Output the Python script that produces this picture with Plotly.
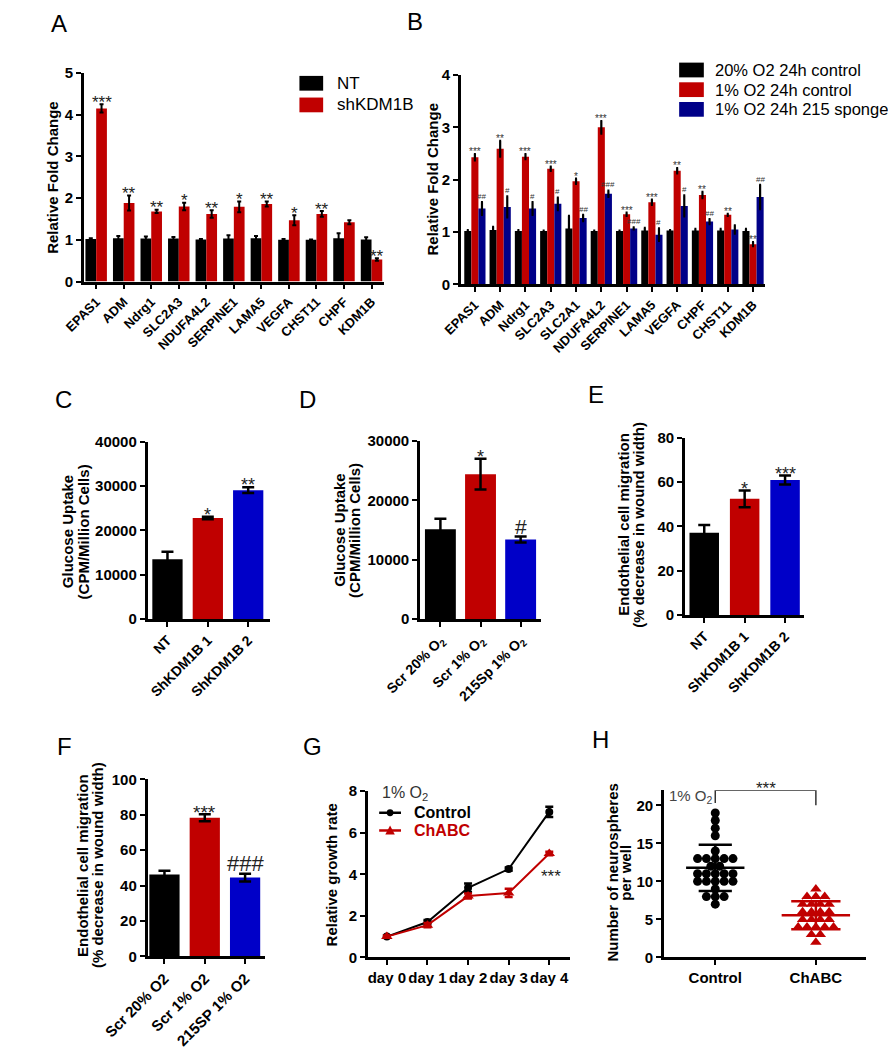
import numpy as np
import plotly.graph_objects as go

W, H = 888, 1050
FONT = "Liberation Sans, Arial, sans-serif"
BLACK = '#000000'; RED = '#C00000'; NAVY = '#000088'; BLUE = '#0000C8'

# ---------------- data ----------------
A_genes = ["EPAS1", "ADM", "Ndrg1", "SLC2A3", "NDUFA4L2", "SERPINE1", "LAMA5", "VEGFA", "CHST11", "CHPF", "KDM1B"]
A_nt = [1.02, 1.04, 1.03, 1.03, 1.01, 1.03, 1.04, 1.0, 1.0, 1.04, 1.01]
A_nt_err = [0.02, 0.05, 0.05, 0.04, 0.01, 0.08, 0.05, 0.02, 0.01, 0.12, 0.05]
A_sh = [4.15, 1.88, 1.68, 1.80, 1.62, 1.79, 1.86, 1.47, 1.62, 1.42, 0.53]
A_sh_err = [0.10, 0.18, 0.04, 0.09, 0.09, 0.13, 0.06, 0.12, 0.07, 0.05, 0.03]
A_sig = ["***", "**", "**", "*", "**", "*", "**", "*", "**", "", "**"]

B_genes = ["EPAS1", "ADM", "Ndrg1", "SLC2A3", "SLC2A1", "NDUFA4L2", "SERPINE1", "LAMA5", "VEGFA", "CHPF", "CHST11", "KDM1B"]
B_c20 = [1.02, 1.04, 1.02, 1.02, 1.07, 1.02, 1.02, 1.03, 1.03, 1.03, 1.03, 1.02]
B_c20_err = [0.02, 0.06, 0.02, 0.01, 0.24, 0.01, 0.01, 0.05, 0.01, 0.03, 0.03, 0.04]
B_c1 = [2.43, 2.59, 2.44, 2.21, 1.97, 3.00, 1.34, 1.57, 2.17, 1.71, 1.33, 0.77]
B_c1_err = [0.06, 0.15, 0.05, 0.04, 0.05, 0.12, 0.03, 0.05, 0.05, 0.06, 0.02, 0.04]
B_sp = [1.45, 1.48, 1.45, 1.54, 1.27, 1.73, 1.07, 0.95, 1.50, 1.20, 1.05, 1.67]
B_sp_err = [0.12, 0.20, 0.12, 0.12, 0.06, 0.06, 0.02, 0.12, 0.20, 0.05, 0.08, 0.23]
B_sig1 = ["***", "**", "***", "***", "*", "***", "***", "***", "**", "**", "**", "**"]
B_sig2 = ["##", "#", "#", "#", "##", "###", "###", "#", "#", "##", "", "##"]

C_groups = ["NT", "ShKDM1B 1", "ShKDM1B 2"]
C_vals = [13500, 22800, 29100]
C_err = [1700, 300, 650]
C_sig = ["", "*", "**"]

D_groups = ["Scr 20% O<sub>2</sub>", "Scr 1% O<sub>2</sub>", "215Sp 1% O<sub>2</sub>"]
D_vals = [15100, 24400, 13400]
D_err = [1800, 2600, 500]
D_sig = ["", "*", "#"]

E_groups = ["NT", "ShKDM1B 1", "ShKDM1B 2"]
E_vals = [37.2, 52.5, 61.0]
E_err = [3.5, 3.8, 2.0]
E_sig = ["", "*", "***"]

F_groups = ["Scr 20% O2", "Scr 1% O2", "215SP 1% O2"]
F_vals = [46.2, 78.3, 44.5]
F_err = [2.2, 2.0, 2.2]
F_sig = ["", "***", "###"]

G_days = ["day 0", "day 1", "day 2", "day 3", "day 4"]
G_ctrl = [1.0, 1.7, 3.35, 4.25, 7.0]
G_ctrl_err = [0.05, 0.1, 0.2, 0.08, 0.25]
G_chabc = [1.0, 1.55, 2.95, 3.1, 5.0]
G_chabc_err = [0.05, 0.1, 0.12, 0.2, 0.08]

H_groups = ["Control", "ChABC"]
H_ctrl = [19, 18, 17, 16, 14, 13, 13, 13, 13, 13, 12, 12, 11, 11, 11, 11, 11,
          10, 10, 10, 10, 10, 9, 8, 8, 8, 7]
H_chabc = [9, 8, 8, 8, 7, 7, 7, 7, 6, 6, 6, 6, 5, 5, 5, 5, 4, 4, 4, 4, 4, 3, 3, 2]

# ---------------- helpers ----------------
def xd(a, b):
    return [a / W, b / W]

def yd(top, bot):
    return [1 - bot / H, 1 - top / H]

def xaxis(dom, rng, tickvals, ticktext, angle=0, size=12, anchor='y'):
    return dict(domain=dom, range=rng, tickvals=tickvals, ticktext=ticktext, tickangle=angle,
                showline=True, linecolor='black', linewidth=2.5, ticks='outside', ticklen=5,
                tickwidth=2, tickcolor='black', showgrid=False, zeroline=False, anchor=anchor,
                tickfont=dict(family=FONT, size=size, color='black', weight='bold'), fixedrange=True)

def yaxis(dom, rng, tickvals, anchor, size=15):
    return dict(domain=dom, range=rng, tickvals=tickvals, tickformat='d', showline=True, linecolor='black',
                linewidth=2.5, ticks='outside', ticklen=5, tickwidth=2, tickcolor='black', showgrid=False,
                zeroline=False, anchor=anchor,
                tickfont=dict(family=FONT, size=size, color='black', weight='bold'), fixedrange=True)

ann = []
shapes = []

def text(x, y, t, size=13, xref='paper', yref='paper', angle=0, color='black', weight='normal',
         xanchor='center', yanchor='middle', yshift=0):
    if xref == 'paper':
        x = x / W
    if yref == 'paper':
        y = 1 - y / H
    ann.append(dict(x=x, y=y, xref=xref, yref=yref, text=t, showarrow=False, textangle=angle,
                    font=dict(family=FONT, size=size, color=color, weight=weight),
                    xanchor=xanchor, yanchor=yanchor, yshift=yshift))

def sig_text(x, y, s, size, xa, ya, color='black', gap=2):
    # place the glyphs just above the error bar top
    if '#' in s:
        ys = -0.22 * size - 1 + gap
    else:
        ys = -0.62 * size - 1 + gap
    text(x, y, s, size, xa, ya, color=color, yanchor='bottom', yshift=ys)

def err(arr, th=2, w=2, color='black'):
    return dict(type='data', array=arr, visible=True, color=color, thickness=th, width=w)

fig = go.Figure()
layout = {}

# ---------------- Panel A ----------------
idxA = list(range(len(A_genes)))
fig.add_trace(go.Bar(x=idxA, y=A_nt, width=0.39, offset=-0.39, marker=dict(color=BLACK, line_width=0),
                     error_y=err(A_nt_err, 2, 2), xaxis='x', yaxis='y'))
fig.add_trace(go.Bar(x=idxA, y=A_sh, width=0.39, offset=0.0, marker=dict(color=RED, line_width=0),
                     error_y=err(A_sh_err, 2, 2), xaxis='x', yaxis='y'))
layout['xaxis'] = xaxis(xd(41, 357), [-0.445, 10.45], idxA, A_genes, -45, 13, 'y')
layout['yaxis'] = yaxis(yd(65, 277), [0, 5], [0, 1, 2, 3, 4, 5], 'x')
for i, s in enumerate(A_sig):
    if s:
        sig_text(i + 0.195, A_sh[i] + A_sh_err[i], s, 17, 'x', 'y', color='#222')

# ---------------- Panel B ----------------
idxB = list(range(len(B_genes)))
for vals, errs, col, off in [(B_c20, B_c20_err, BLACK, -0.42), (B_c1, B_c1_err, RED, -0.14), (B_sp, B_sp_err, NAVY, 0.14)]:
    fig.add_trace(go.Bar(x=idxB, y=vals, width=0.28, offset=off, marker=dict(color=col, line_width=0),
                         error_y=err(errs, 2.2, 1), xaxis='x2', yaxis='y2'))
layout['xaxis2'] = xaxis(xd(438, 758), [-0.557, 11.457], idxB, B_genes, -45, 13, 'y2')
layout['yaxis2'] = yaxis(yd(67, 280), [0, 4], [0, 1, 2, 3, 4], 'x2')
for i in idxB:
    if B_sig1[i]:
        sig_text(i, B_c1[i] + B_c1_err[i], B_sig1[i], 10, 'x2', 'y2', color='#333')
    if B_sig2[i]:
        sig_text(i + 0.28, B_sp[i] + B_sp_err[i], B_sig2[i], 8, 'x2', 'y2', color='#333')

# ---------------- single bar panels C D E F ----------------
def bar_panel(vals, errs, sig, xa, ya, width, colors, ssize, hsize):
    idx = list(range(len(vals)))
    fig.add_trace(go.Bar(x=idx, y=vals, width=width, marker=dict(color=colors, line_width=0),
                         error_y=err(errs, 2.5, 6), xaxis=xa, yaxis=ya))
    for i, s in enumerate(sig):
        if s:
            sig_text(i, vals[i] + errs[i], s, hsize if '#' in s else ssize, xa, ya, color='#222')

cols3 = [BLACK, RED, BLUE]
bar_panel(C_vals, C_err, C_sig, 'x3', 'y3', 0.75, cols3, 18, 21)
layout['xaxis3'] = xaxis(xd(108, 237), [-0.494, 2.54], [0, 1, 2], C_groups, -45, 14, 'y3')
layout['yaxis3'] = yaxis(yd(440, 620), [0, 40000], [0, 10000, 20000, 30000, 40000], 'x3')

bar_panel(D_vals, D_err, D_sig, 'x4', 'y4', 0.77, cols3, 18, 21)
layout['xaxis4'] = xaxis(xd(395, 523), [-0.509, 2.52], [0, 1, 2], D_groups, -45, 14, 'y4')
layout['yaxis4'] = yaxis(yd(439, 620), [0, 30000], [0, 10000, 20000, 30000], 'x4')

bar_panel(E_vals, E_err, E_sig, 'x5', 'y5', 0.73, cols3, 18, 21)
layout['xaxis5'] = xaxis(xd(674, 800), [-0.48, 2.48], [0, 1, 2], E_groups, -45, 14, 'y5')
layout['yaxis5'] = yaxis(yd(436, 616), [0, 80], [0, 20, 40, 60, 80], 'x5')

bar_panel(F_vals, F_err, F_sig, 'x6', 'y6', 0.75, cols3, 19, 22)
layout['xaxis6'] = xaxis(xd(108, 232), [-0.42, 2.5], [0, 1, 2], F_groups, -45, 15, 'y6')
layout['yaxis6'] = yaxis(yd(783, 963), [0, 100], [0, 20, 40, 60, 80, 100], 'x6')

# ---------------- Panel G ----------------
idxG = list(range(len(G_days)))
fig.add_trace(go.Scatter(x=idxG, y=G_ctrl, mode='lines+markers', line=dict(color=BLACK, width=2),
                         marker=dict(symbol='circle', size=8, color=BLACK),
                         error_y=err(G_ctrl_err, 2.5, 4), xaxis='x7', yaxis='y7', cliponaxis=False))
fig.add_trace(go.Scatter(x=idxG, y=G_chabc, mode='lines+markers', line=dict(color=RED, width=2),
                         marker=dict(symbol='triangle-up', size=10, color=RED),
                         error_y=err(G_chabc_err, 2.5, 4, RED),
                         xaxis='x7', yaxis='y7', cliponaxis=False))
layout['xaxis7'] = xaxis(xd(340, 553), [-0.47, 4.51], idxG, G_days, 0, 15, 'y7')
layout['yaxis7'] = yaxis(yd(795, 964), [0, 8], [0, 2, 4, 6, 8], 'x7')
text(4.05, G_chabc[4], "***", 17, 'x7', 'y7', color='#222', yanchor='middle', yshift=-23)

# ---------------- Panel H ----------------
def swarm(vals, center, step):
    xs = []
    counts = {}
    for v in vals:
        counts[v] = counts.get(v, 0) + 1
    seen = {}
    for v in vals:
        k = seen.get(v, 0)
        n = counts[v]
        xs.append(center + (k - (n - 1) / 2) * step)
        seen[v] = k + 1
    return xs

fig.add_trace(go.Scatter(x=swarm(H_ctrl, 0, 0.088), y=H_ctrl, mode='markers',
                         marker=dict(symbol='circle', size=9, color=BLACK), xaxis='x8', yaxis='y8', cliponaxis=False))
fig.add_trace(go.Scatter(x=swarm(H_chabc, 1, 0.088), y=H_chabc, mode='markers',
                         marker=dict(symbol='triangle-up', size=10, color=RED), xaxis='x8', yaxis='y8', cliponaxis=False))
for data, c, col, mw, sw in [(H_ctrl, 0, BLACK, 0.29, 0.165), (H_chabc, 1, RED, 0.34, 0.245)]:
    m = float(np.mean(data)); s = float(np.std(data, ddof=1))
    xs = [c - mw, c + mw, None, c - sw, c + sw, None, c - sw, c + sw, None, c, c]
    ys = [m, m, None, m + s, m + s, None, m - s, m - s, None, m - s, m + s]
    fig.add_trace(go.Scatter(x=xs, y=ys, mode='lines', line=dict(color=col, width=2.5),
                             xaxis='x8', yaxis='y8', cliponaxis=False))
layout['xaxis8'] = xaxis(xd(652, 865), [-0.51, 1.5], [0, 1], H_groups, 0, 15, 'y8')
layout['yaxis8'] = yaxis(yd(794, 964), [0, 22], [0, 5, 10, 15, 20], 'x8')
fig.add_trace(go.Scatter(x=[0, 0, 1, 1], y=[20.3, 22, 22, 20], mode='lines', line=dict(color='#333', width=1.5),
                         xaxis='x8', yaxis='y8', cliponaxis=False))
sig_text(0.5, 22, "***", 17, 'x8', 'y8', color='#222')
text(655, 800, "1% O<sub>2</sub>", 15, color='#444', xanchor='left')

# ---------------- legends (manual) ----------------
shapes.append(dict(type='rect', xref='paper', yref='paper', x0=268 / W, x1=293 / W, y0=1 - 83 / H, y1=1 - 68 / H,
                   fillcolor=BLACK, line_width=0))
shapes.append(dict(type='rect', xref='paper', yref='paper', x0=268 / W, x1=293 / W, y0=1 - 105 / H, y1=1 - 90 / H,
                   fillcolor=RED, line_width=0))
text(305, 76, "NT", 17, xanchor='left')
text(305, 97, "shKDM1B", 17, xanchor='left')

for (yc, col, lab) in [(62, BLACK, "20% O2 24h control"), (82, RED, "1% O2 24h control"), (102, NAVY, "1% O2 24h 215 sponge")]:
    shapes.append(dict(type='rect', xref='paper', yref='paper', x0=668 / W, x1=694 / W, y0=1 - (yc + 7.5) / H,
                       y1=1 - (yc - 7.5) / H, fillcolor=col, line_width=0))
    text(704, yc, lab, 16.5, xanchor='left')

# G legend
text(353, 797, "1% O<sub>2</sub>", 16, color='#333', xanchor='left')
shapes.append(dict(type='line', xref='paper', yref='paper', x0=352 / W, x1=375 / W, y0=1 - 817 / H, y1=1 - 817 / H,
                   line=dict(color=BLACK, width=2.5)))
shapes.append(dict(type='circle', xref='paper', yref='paper', x0=360 / W, x1=367 / W, y0=1 - 820.5 / H, y1=1 - 813.5 / H,
                   fillcolor=BLACK, line_width=0))
text(387, 817, "Control", 16, weight='bold', xanchor='left')
shapes.append(dict(type='line', xref='paper', yref='paper', x0=352 / W, x1=375 / W, y0=1 - 835 / H, y1=1 - 835 / H,
                   line=dict(color=RED, width=2.5)))
tx, ty = 363.5, 835
shapes.append(dict(type='path', xref='paper', yref='paper',
                   path=f"M {(tx-5)/W} {1-(ty+4)/H} L {(tx+5)/W} {1-(ty+4)/H} L {tx/W} {1-(ty-5)/H} Z",
                   fillcolor=RED, line_width=0))
text(387, 835, "ChABC", 16, color=RED, weight='bold', xanchor='left')

# ---------------- axis titles (one annotation per line) ----------------
TS = 15
def title(lines, xs, yc):
    for t, x in zip(lines, xs):
        text(x, yc, t, TS, angle=-90, weight='bold')

title(["Relative Fold Change"], [8], 171)
title(["Relative Fold Change"], [408], 173)
title(["Glucose Uptake", "(CPM/Million Cells)"], [24, 40], 531)
title(["Glucose Uptake", "(CPM/Million Cells)"], [310, 326], 530)
title(["Endothelial cell migration", "(% decrease in wound width)"], [609, 625], 524)
title(["Endothelial cell migration", "(% decrease in wound width)"], [40, 56], 870)
title(["Relative growth rate"], [302], 880)
title(["Number of neurospheres", "per well"], [598, 612], 878)

# ---------------- panel letters ----------------
for (x, y, l) in [(15, 15, "A"), (390, 13, "B"), (19, 397, "C"), (277, 397, "D"), (580, 392, "E"),
                  (21, 750, "F"), (282, 750, "G"), (585, 743, "H")]:
    text(x, y, l, 24)

fig.update_layout(**layout)
fig.update_layout(width=W, height=H, margin=dict(l=0, r=0, t=0, b=0), showlegend=False,
                  barmode='overlay', plot_bgcolor='white', paper_bgcolor='white',
                  annotations=ann, shapes=shapes, font=dict(family=FONT, color='black'))
fig.write_html("out.html", config={'displayModeBar': False},
               post_script="document.body.style.margin='0';")
